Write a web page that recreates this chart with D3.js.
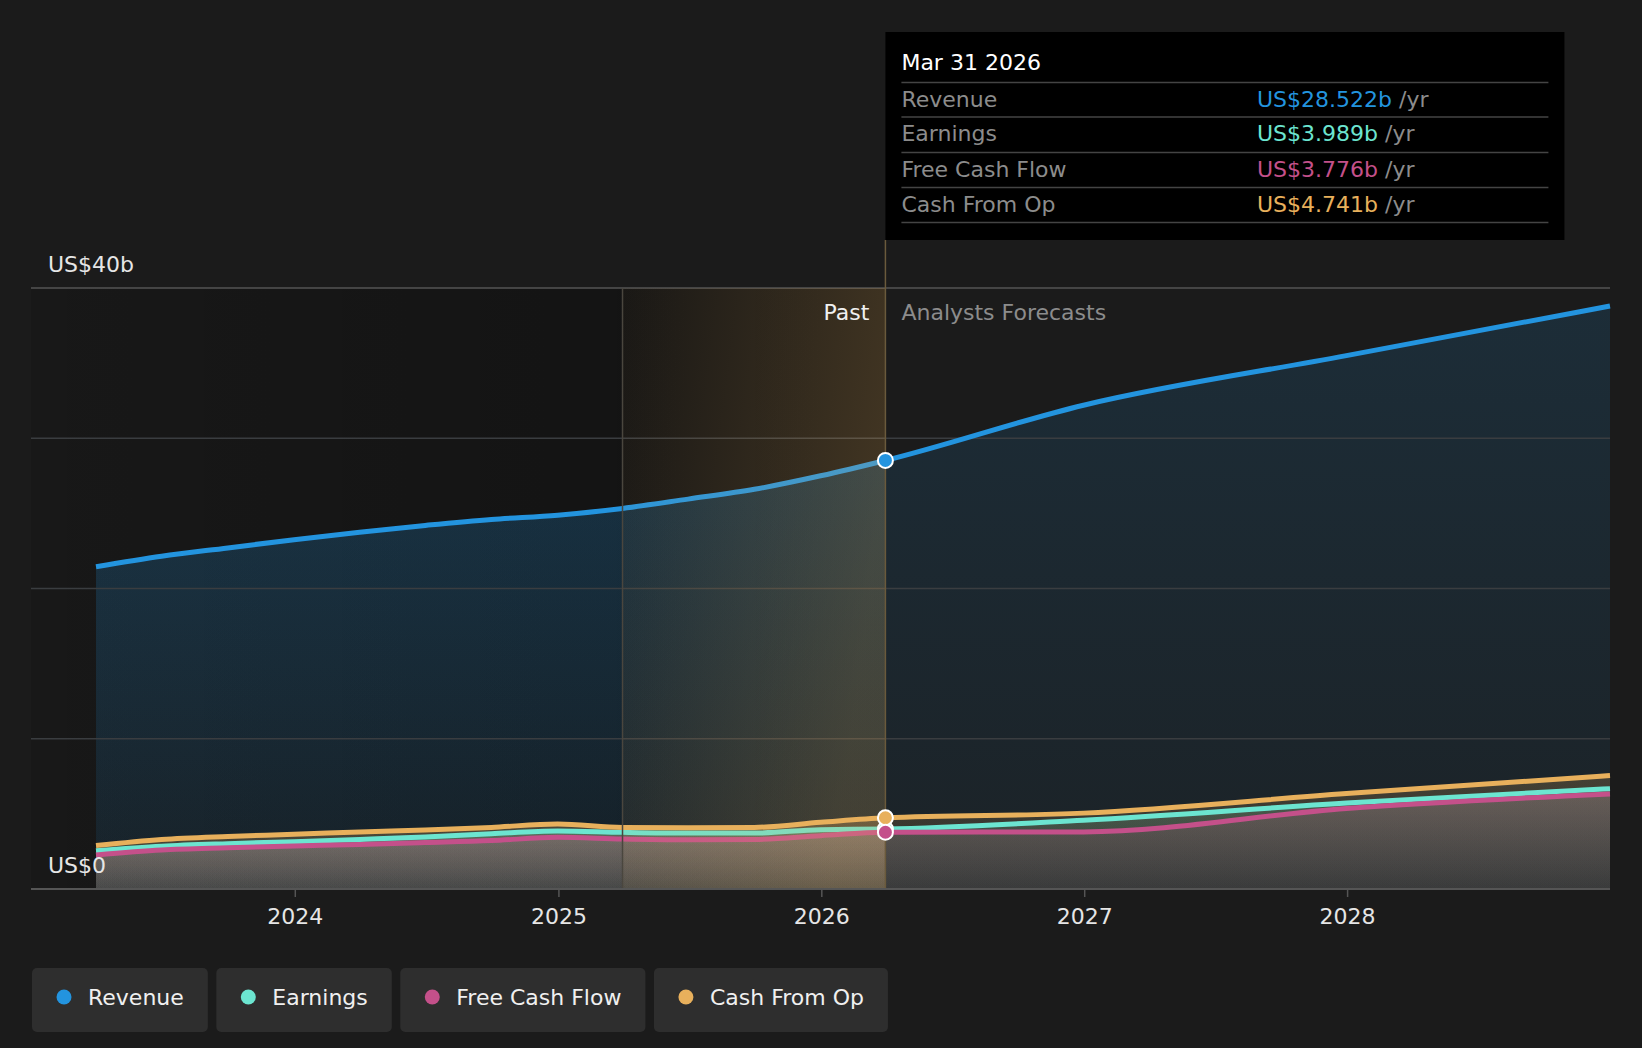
<!DOCTYPE html>
<html>
<head>
<meta charset="utf-8">
<script src="https://cdn.jsdelivr.net/npm/d3@7"></script>
<style>
  body { margin: 0; background: #1b1b1b; }
  text { font-family: "DejaVu Sans", sans-serif; }
</style>
</head>
<body>
<script>
//data (US$ billions)
var pastDates = ["2023-03-31", "2023-06-30", "2023-09-30", "2023-12-31", "2024-03-31", "2024-06-30",
                 "2024-09-30", "2024-12-31", "2025-03-31", "2025-06-30", "2025-09-30", "2025-12-31", "2026-03-31"];
var forecastDates = ["2026-12-31", "2027-12-31", "2028-12-31"];

var revenuePast = [21.45, 22.15, 22.7, 23.25, 23.75, 24.2, 24.6, 24.88, 25.33, 25.95, 26.6, 27.5, 28.522];
var revenueForecast = [32.2, 35.5, 38.8];
var earningsPast = [2.55, 2.85, 3.02, 3.15, 3.3, 3.46, 3.68, 3.86, 3.77, 3.72, 3.72, 3.95, 3.989];
var earningsForecast = [4.58, 5.72, 6.68];
var fcfPast = [2.27, 2.6, 2.75, 2.87, 2.97, 3.09, 3.22, 3.44, 3.33, 3.28, 3.3, 3.55, 3.776];
var fcfForecast = [3.8, 5.36, 6.33];
var cfoPast = [2.89, 3.3, 3.5, 3.64, 3.8, 3.93, 4.1, 4.33, 4.1, 4.08, 4.1, 4.44, 4.741];
var cfoForecast = [5.05, 6.35, 7.55];

var seriesNames = ["Revenue", "Earnings", "Free Cash Flow", "Cash From Op"];
var seriesColors = ["#2394df", "#6ce5d0", "#c4508a", "#e8b05c"];
var tooltipValues = ["US$28.522b", "US$3.989b", "US$3.776b", "US$4.741b"];

var yearTicks = ["2024", "2025", "2026", "2027", "2028"];
var gridValues = [0, 10, 20, 30, 40];
var yLabelValues = [0, 40];
var yLabels = ["US$0", "US$40b"];

var highlightStart = "2025-03-31";
var todayDate = "2026-03-31";
var tooltipDate = "Mar 31 2026";

//Width and height
var w = 1642;
var h = 1048;
var plotLeft = 31, plotRight = 1610;
var plotTop = 288, plotBottom = 889;
var fs = "22px";

var parse = d3.timeParse("%Y-%m-%d");

var svg = d3.select("body")
            .append("svg")
            .attr("width", w)
            .attr("height", h);

var defs = svg.append("defs");

//scales
var allDates = pastDates.concat(forecastDates).map(parse);

var xScale = d3.scaleTime()
            .domain([allDates[0], allDates[allDates.length - 1]])
            .range([96, plotRight]);

var yScale = d3.scaleLinear()
            .domain([0, 40])
            .range([plotBottom, plotTop]);

function makeSeries(past, fc) {
    return past.concat(fc).map(function(v, i) { return [allDates[i], v]; });
}
var series = [
    makeSeries(revenuePast, revenueForecast),
    makeSeries(earningsPast, earningsForecast),
    makeSeries(fcfPast, fcfForecast),
    makeSeries(cfoPast, cfoForecast)
];

var xToday = xScale(parse(todayDate));
var xHigh = xScale(parse(highlightStart));

//gradients
var pastGrad = defs.append("linearGradient").attr("id", "pastGrad");
pastGrad.append("stop").attr("offset", "0%").attr("stop-color", "#000").attr("stop-opacity", 0.12);
pastGrad.append("stop").attr("offset", "100%").attr("stop-color", "#000").attr("stop-opacity", 0.35);

var hiGrad = defs.append("linearGradient").attr("id", "hiGrad")
    .attr("x1", 0).attr("y1", 0).attr("x2", 1).attr("y2", 0.3);
hiGrad.append("stop").attr("offset", "0%").attr("stop-color", "#e8b05c").attr("stop-opacity", 0.03);
hiGrad.append("stop").attr("offset", "100%").attr("stop-color", "#e8b05c").attr("stop-opacity", 0.22);

function vGrad(id, c, o1, o2, user) {
    var g = defs.append("linearGradient")
        .attr("id", id)
        .attr("x1", 0).attr("y1", 0).attr("x2", 0).attr("y2", 1);
    if (user) {
        g.attr("gradientUnits", "userSpaceOnUse")
         .attr("y1", plotTop).attr("y2", plotBottom);
    }
    g.append("stop").attr("offset", "0%").attr("stop-color", c).attr("stop-opacity", o1);
    g.append("stop").attr("offset", "100%").attr("stop-color", c).attr("stop-opacity", o2);
}
seriesColors.forEach(function(c, i) {
    if (i == 0) {
        vGrad("area0", c, 0.15, 0.06, true);
        vGrad("past0", c, 0.16, 0.03, true);
    } else {
        vGrad("area" + i, c, 0.2, 0.07, false);
        vGrad("past" + i, c, 0.22, 0.05, false);
    }
});

defs.append("clipPath").attr("id", "pastClip")
    .append("rect")
    .attr("x", plotLeft)
    .attr("y", 0)
    .attr("width", xToday - plotLeft)
    .attr("height", h);

//dark past background
svg.append("rect")
    .attr("x", plotLeft)
    .attr("y", plotTop)
    .attr("width", xToday - plotLeft)
    .attr("height", plotBottom - plotTop)
    .attr("fill", "url(#pastGrad)");

//areas
var area = d3.area()
    .curve(d3.curveMonotoneX)
    .x(function(d) { return xScale(d[0]); })
    .y0(yScale(0))
    .y1(function(d) { return yScale(d[1]); });

svg.selectAll(".area")
    .data(series)
    .enter()
    .append("path")
    .attr("class", "area")
    .attr("d", area)
    .attr("fill", function(d, i) { return "url(#area" + i + ")"; });

//past areas are a bit stronger
svg.append("g")
    .attr("clip-path", "url(#pastClip)")
    .selectAll(".parea")
    .data(series)
    .enter()
    .append("path")
    .attr("class", "parea")
    .attr("d", area)
    .attr("fill", function(d, i) { return "url(#past" + i + ")"; });

//gridlines
svg.selectAll(".grid")
    .data(gridValues)
    .enter()
    .append("line")
    .attr("class", "grid")
    .attr("x1", plotLeft)
    .attr("x2", plotRight)
    .attr("y1", function(d) { return yScale(d); })
    .attr("y2", function(d) { return yScale(d); })
    .attr("stroke", function(d) { return d == 40 ? "#555" : "#3a3d40"; })
    .attr("stroke-width", function(d) { return d == 0 ? 0 : 1.5; });

//lines
var line = d3.line()
    .curve(d3.curveMonotoneX)
    .x(function(d) { return xScale(d[0]); })
    .y(function(d) { return yScale(d[1]); });

svg.selectAll(".line")
    .data(series)
    .enter()
    .append("path")
    .attr("class", "line")
    .attr("d", line)
    .attr("fill", "none")
    .attr("stroke", function(d, i) { return seriesColors[i]; })
    .attr("stroke-width", 5);

//highlight of last past year, drawn over the lines
svg.append("rect")
    .attr("x", xHigh)
    .attr("y", plotTop)
    .attr("width", xToday - xHigh)
    .attr("height", plotBottom - plotTop)
    .attr("fill", "url(#hiGrad)");

svg.append("line")
    .attr("x1", xHigh).attr("x2", xHigh)
    .attr("y1", plotTop).attr("y2", plotBottom)
    .attr("stroke", "#4a463e")
    .attr("stroke-width", 1.5);

svg.append("line")
    .attr("x1", xToday).attr("x2", xToday)
    .attr("y1", 240).attr("y2", plotBottom)
    .attr("stroke", "#6a5a3c")
    .attr("stroke-width", 1.5);

//X axis
var xAxis = svg.append("g")
    .attr("transform", "translate(0," + plotBottom + ")")
    .call(d3.axisBottom(xScale)
        .tickValues(yearTicks.map(function(y) { return parse(y + "-01-01"); }))
        .tickFormat(d3.timeFormat("%Y"))
        .tickSize(8)
        .tickPadding(11));
xAxis.select(".domain").remove();
xAxis.selectAll(".tick line").attr("stroke", "#555").attr("stroke-width", 1.5);
xAxis.selectAll(".tick text")
    .attr("fill", "#e6e6e6")
    .style("font-size", fs)
    .style("font-family", "DejaVu Sans");

svg.append("line")
    .attr("x1", plotLeft).attr("x2", plotRight)
    .attr("y1", plotBottom).attr("y2", plotBottom)
    .attr("stroke", "#555")
    .attr("stroke-width", 2);

//Y labels
svg.selectAll(".ylab")
    .data(yLabelValues)
    .enter()
    .append("text")
    .attr("class", "ylab")
    .attr("x", 48)
    .attr("y", function(d) { return yScale(d) - 16; })
    .attr("fill", "#e6e6e6")
    .style("font-size", fs)
    .text(function(d, i) { return yLabels[i]; });

//past / forecast labels
svg.append("text")
    .attr("x", xToday - 16)
    .attr("y", 320)
    .attr("text-anchor", "end")
    .attr("fill", "#f0f0f0")
    .style("font-size", fs)
    .text("Past");

svg.append("text")
    .attr("x", xToday + 16)
    .attr("y", 320)
    .attr("fill", "#8c8c8c")
    .style("font-size", fs)
    .text("Analysts Forecasts");

//markers at today
var markerOrder = [0, 1, 3, 2];
svg.selectAll(".marker")
    .data(markerOrder)
    .enter()
    .append("circle")
    .attr("class", "marker")
    .attr("cx", xToday)
    .attr("cy", function(i) { return yScale(series[i][pastDates.length - 1][1]); })
    .attr("r", 7.5)
    .attr("fill", function(i) { return seriesColors[i]; })
    .attr("stroke", "#fff")
    .attr("stroke-width", 2);

//tooltip
var tip = svg.append("g");
tip.append("rect")
    .attr("x", xToday)
    .attr("y", 32)
    .attr("width", 679)
    .attr("height", 208)
    .attr("fill", "#000");

tip.append("text")
    .attr("x", xToday + 16)
    .attr("y", 70)
    .attr("fill", "#fff")
    .style("font-size", fs)
    .text(tooltipDate);

var rowY = [82.5, 117, 152.5, 187.5, 222.5];
tip.selectAll(".sep")
    .data(rowY)
    .enter()
    .append("line")
    .attr("x1", xToday + 16)
    .attr("x2", xToday + 663)
    .attr("y1", function(d) { return d; })
    .attr("y2", function(d) { return d; })
    .attr("stroke", "#444")
    .attr("stroke-width", 1.5);

seriesNames.forEach(function(name, i) {
    tip.append("text")
        .attr("x", xToday + 16)
        .attr("y", rowY[i] + 24)
        .attr("fill", "#8c8c8c")
        .style("font-size", fs)
        .text(name);

    var t = tip.append("text")
        .attr("x", 1257)
        .attr("y", rowY[i] + 24)
        .style("font-size", fs);
    t.append("tspan").attr("fill", seriesColors[i]).text(tooltipValues[i]);
    t.append("tspan").attr("fill", "#8c8c8c").text(" /yr");
});

//legend
var lx = 32;
seriesNames.forEach(function(name, i) {
    var g = svg.append("g").attr("transform", "translate(" + lx + ",968)");
    var box = g.append("rect")
        .attr("height", 64)
        .attr("rx", 5)
        .attr("fill", "#2e2e2e");
    g.append("circle")
        .attr("cx", 32)
        .attr("cy", 29)
        .attr("r", 7.5)
        .attr("fill", seriesColors[i]);
    var t = g.append("text")
        .attr("x", 56)
        .attr("y", 37)
        .attr("fill", "#f0f0f0")
        .style("font-size", fs)
        .text(name);
    var bw = t.node().getComputedTextLength() + 80;
    box.attr("width", bw);
    lx += bw + 8.5;
});
</script>
</body>
</html>
